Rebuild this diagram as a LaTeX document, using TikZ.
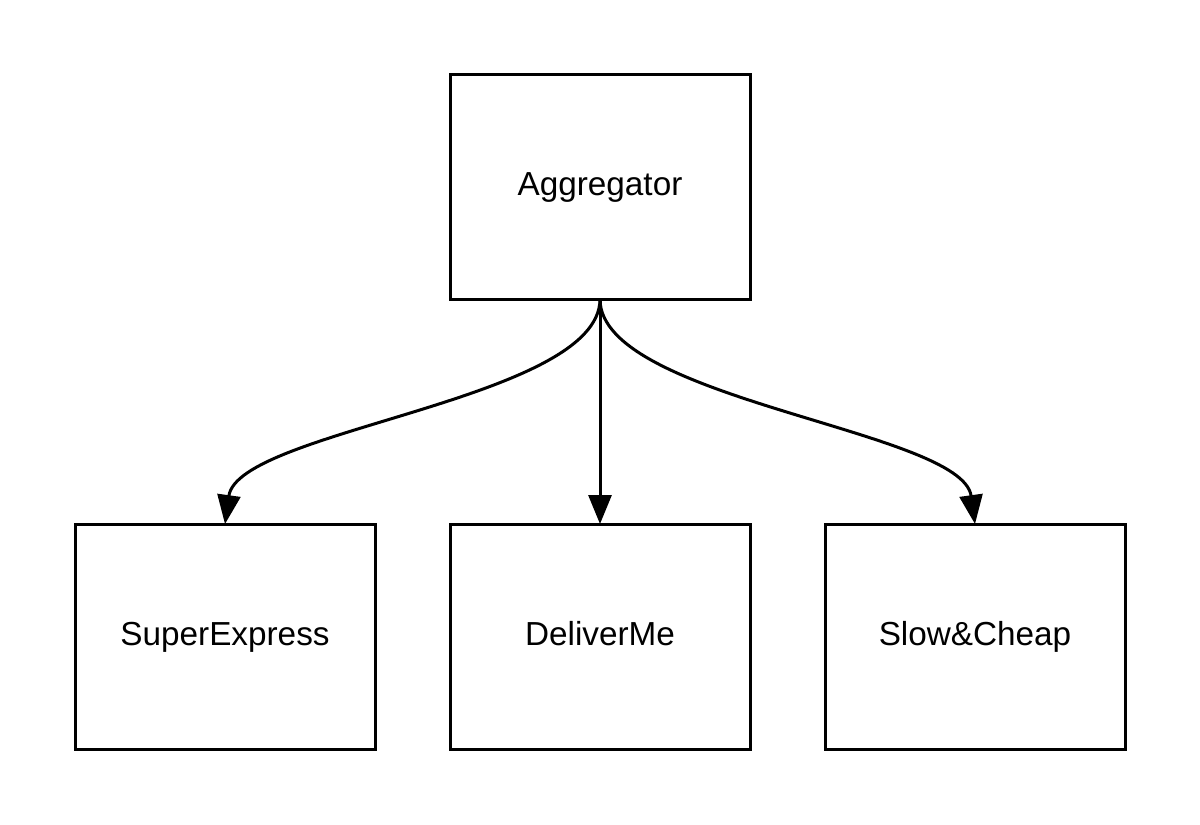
\documentclass[tikz,border=0pt]{standalone}
\usepackage{fontspec}
\setmainfont{Liberation Sans}
\usetikzlibrary{arrows.meta}
\begin{document}
\begin{tikzpicture}[x=1pt,y=-1pt,
  box/.style={draw,line width=3pt,minimum width=300pt,minimum height=225pt,inner sep=0pt,outer sep=0pt,
    text height=24pt,text depth=7pt,font=\fontsize{33.3}{38}\selectfont},
  conn/.style={line width=3pt,-{Triangle[length=29pt,width=23pt]}}]
\useasboundingbox (0,0) rectangle (1200,825);
\node[box] (agg) at (600,186.5) {Aggregator};
\node[box] (se) at (225,636.5) {SuperExpress};
\node[box] (dm) at (600,636.5) {DeliverMe};
\node[box] (sc) at (975,636.5) {Slow\&Cheap};
\draw[conn] (agg.south) .. controls (600,400) and (238,430) .. (se.north);
\draw[conn] (agg.south) -- (dm.north);
\draw[conn] (agg.south) .. controls (600,400) and (962,430) .. (sc.north);
\end{tikzpicture}
\end{document}
